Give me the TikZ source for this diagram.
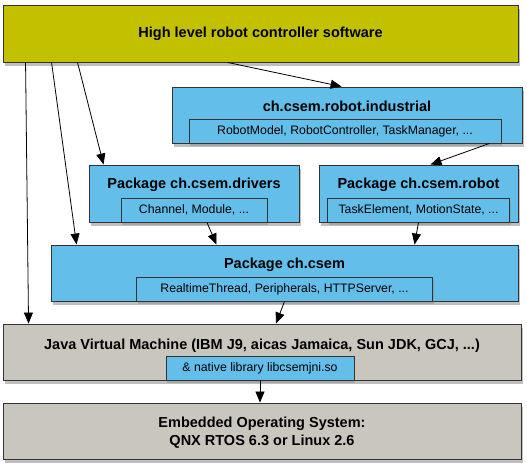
\documentclass[tikz,border=0pt]{standalone}
\usepackage{fontspec}
\setmainfont{Liberation Sans}
\definecolor{hlolive}{HTML}{C3C000}
\definecolor{pkgblue}{HTML}{64BEEA}
\definecolor{sysgray}{HTML}{C9C6BD}
\usetikzlibrary{arrows.meta,positioning,calc,shadows}

\begin{document}
\begin{tikzpicture}[
  x=1pt, y=-1pt,
  layer/.style={draw=black!80, line width=0.9pt, inner sep=0pt,
    drop shadow={opacity=0.5, shadow xshift=1.5pt, shadow yshift=-4pt}},
  pkgbox/.style={layer, fill=pkgblue},
  sysbox/.style={layer, fill=sysgray},
  listbox/.style={draw=black!80, line width=0.9pt, fill=pkgblue, inner sep=0pt,
    minimum height=24pt, font=\fontsize{12.3}{14}\selectfont,
    drop shadow={opacity=0.4, shadow xshift=1pt, shadow yshift=-3pt}},
  title/.style={inner sep=0pt, font=\bfseries\fontsize{14.5}{18}\selectfont,
    text height=10.5pt, text depth=3pt},
  uses/.style={-{Triangle[length=11pt,width=9pt]}, line width=0.8pt}
]
  \useasboundingbox (0,0) rectangle (527,465);

  % High level software on top
  \node[layer, fill=hlolive, minimum width=515pt, minimum height=57pt] (top) at (260.5,33.5) {};
  \node[title] (toptitle) at (top.center) {High level robot controller software};

  % ch.csem.robot.industrial
  \node[pkgbox, minimum width=350pt, minimum height=56pt] (ind) at (347,115) {};
  \node[title] (indtitle) at ($(ind.north)+(0,21)$) {ch.csem.robot.industrial};
  \node[listbox, minimum width=312pt, anchor=south] (indlist) at ($(ind.south)+(-2,0)$)
    {RobotModel, RobotController, TaskManager, ...};

  % Package ch.csem.drivers
  \node[pkgbox, minimum width=210pt, minimum height=57pt] (drv) at (194,193.5) {};
  \node[title] (drvtitle) at ($(drv.north)+(0,20)$) {Package ch.csem.drivers};
  \node[listbox, minimum width=146pt, anchor=south] (drvlist) at (drv.south)
    {Channel, Module, ...};

  % Package ch.csem.robot
  \node[pkgbox, minimum width=199pt, minimum height=57pt] (rob) at (418.5,193.5) {};
  \node[title] (robtitle) at ($(rob.north)+(0,20)$) {Package ch.csem.robot};
  \node[listbox, minimum width=182pt, anchor=south] (roblist) at (rob.south)
    {TaskElement, MotionState, ...};

  % Package ch.csem
  \node[pkgbox, minimum width=467pt, minimum height=56pt] (csem) at (284.5,273) {};
  \node[title] (csemtitle) at ($(csem.north)+(0,20)$) {Package ch.csem};
  \node[listbox, minimum width=296pt, anchor=south] (csemlist) at (csem.south)
    {RealtimeThread, Peripherals, HTTPServer, ...};

  % Java virtual machine
  \node[sysbox, minimum width=518pt, minimum height=56pt] (jvm) at (262,352) {};
  \node[title] (jvmtitle) at ($(jvm.north)+(0,22)$)
    {Java Virtual Machine (IBM J9, aicas Jamaica, Sun JDK, GCJ, ...)};
  \node[listbox, minimum width=188pt, anchor=south] (jvmlist) at ($(jvm.south)+(-2,0)$)
    {\& native library libcsemjni.so};

  % Operating system
  \node[sysbox, minimum width=518pt, minimum height=56pt] (os) at (262,431) {};
  \node[title, align=center, text height=, text depth=] (ostitle) at ($(os.center)+(0,2)$)
    {Embedded Operating System:\\QNX RTOS 6.3 or Linux 2.6};

  % Arrows
  \draw[uses] ([xshift=23pt]top.south west) -- ([xshift=26pt]jvm.north west);
  \draw[uses] ([xshift=49pt]top.south west) -- ([xshift=26pt]csem.north west);
  \draw[uses] ([xshift=75pt]top.south west) -- ([xshift=15pt]drv.north west);
  \draw[uses] ([xshift=225pt]top.south west) -- ([xshift=170pt]ind.north west);
  \draw[uses] ([xshift=-33pt]ind.south east) -- ([xshift=12pt]rob.north);
  \draw[uses] ([xshift=13pt]drvlist.south) -- ([xshift=-68pt]csem.north);
  \draw[uses] (roblist.south) -- ([xshift=130pt]csem.north);
  \draw[uses] (csemlist.south) -- ([xshift=14pt]jvm.north);
  \draw[uses] (jvmlist.south) -- (jvmlist.south |- os.north);
\end{tikzpicture}
\end{document}
